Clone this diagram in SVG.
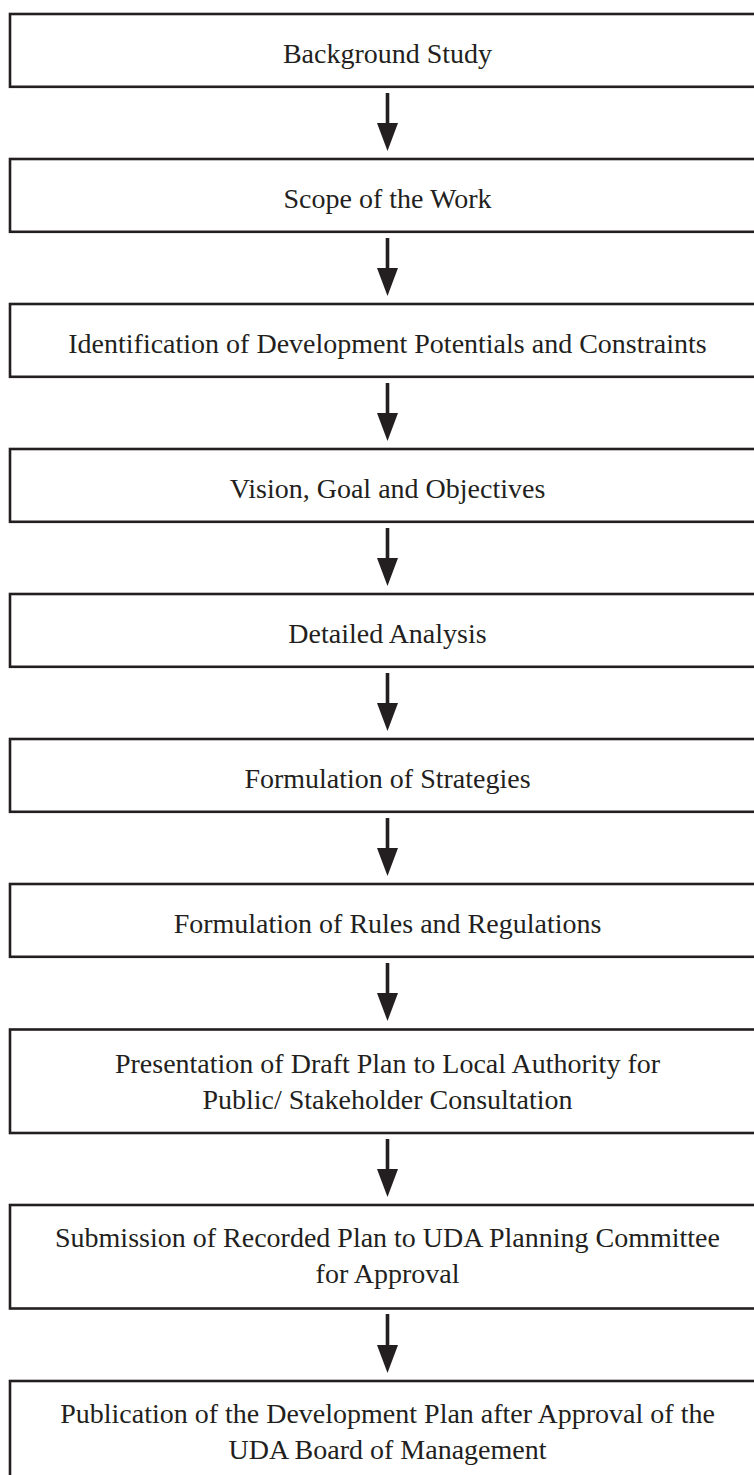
<svg xmlns="http://www.w3.org/2000/svg" width="754" height="1475" viewBox="0 0 754 1475">
<style>
.box{fill:#fff;stroke:#231f20;stroke-width:2.6}
.lbl{font-family:"Liberation Serif","DejaVu Serif",serif;font-size:28px;fill:#231f20;text-anchor:middle}
.shaft{stroke:#231f20;stroke-width:3.6;fill:none}
.head{fill:#231f20}
</style>
<rect width="754" height="1475" fill="#fff"/>
<g id="connectors">
<g id="a1"><line class="shaft" x1="387.5" y1="93" x2="387.5" y2="125"/><polygon class="head" points="377,123 398,123 387.5,151"/></g>
<g id="a2"><line class="shaft" x1="387.5" y1="238" x2="387.5" y2="270"/><polygon class="head" points="377,268 398,268 387.5,296"/></g>
<g id="a3"><line class="shaft" x1="387.5" y1="383" x2="387.5" y2="415"/><polygon class="head" points="377,413 398,413 387.5,441"/></g>
<g id="a4"><line class="shaft" x1="387.5" y1="528" x2="387.5" y2="560"/><polygon class="head" points="377,558 398,558 387.5,586"/></g>
<g id="a5"><line class="shaft" x1="387.5" y1="673" x2="387.5" y2="705"/><polygon class="head" points="377,703 398,703 387.5,731"/></g>
<g id="a6"><line class="shaft" x1="387.5" y1="818" x2="387.5" y2="850"/><polygon class="head" points="377,848 398,848 387.5,876"/></g>
<g id="a7"><line class="shaft" x1="387.5" y1="963" x2="387.5" y2="995"/><polygon class="head" points="377,993 398,993 387.5,1021"/></g>
<g id="a8"><line class="shaft" x1="387.5" y1="1139" x2="387.5" y2="1171"/><polygon class="head" points="377,1169 398,1169 387.5,1197"/></g>
<g id="a9"><line class="shaft" x1="387.5" y1="1314" x2="387.5" y2="1347"/><polygon class="head" points="377,1345 398,1345 387.5,1373"/></g>
</g>
<g id="n1"><rect class="box" x="10" y="14" width="760" height="72.8"/><text class="lbl" x="387.5" y="63">Background Study</text></g>
<g id="n2"><rect class="box" x="10" y="159" width="760" height="72.8"/><text class="lbl" x="387.5" y="208">Scope of the Work</text></g>
<g id="n3"><rect class="box" x="10" y="304" width="760" height="72.8"/><text class="lbl" x="387.5" y="353">Identification of Development Potentials and Constraints</text></g>
<g id="n4"><rect class="box" x="10" y="449" width="760" height="72.8"/><text class="lbl" x="387.5" y="498">Vision, Goal and Objectives</text></g>
<g id="n5"><rect class="box" x="10" y="594" width="760" height="72.8"/><text class="lbl" x="387.5" y="643">Detailed Analysis</text></g>
<g id="n6"><rect class="box" x="10" y="739" width="760" height="72.8"/><text class="lbl" x="387.5" y="788">Formulation of Strategies</text></g>
<g id="n7"><rect class="box" x="10" y="884" width="760" height="72.8"/><text class="lbl" x="387.5" y="933">Formulation of Rules and Regulations</text></g>
<g id="n8"><rect class="box" x="10" y="1029.5" width="760" height="103.5"/><text class="lbl" x="387.5" y="1073">Presentation of Draft Plan to Local Authority for</text><text class="lbl" x="387.5" y="1109">Public/ Stakeholder Consultation</text></g>
<g id="n9"><rect class="box" x="10" y="1205" width="760" height="103.5"/><text class="lbl" x="387.5" y="1247">Submission of Recorded Plan to UDA Planning Committee</text><text class="lbl" x="387.5" y="1283">for Approval</text></g>
<g id="n10"><rect class="box" x="10" y="1381" width="760" height="103.5"/><text class="lbl" x="387.5" y="1423">Publication of the Development Plan after Approval of the</text><text class="lbl" x="387.5" y="1459">UDA Board of Management</text></g>
</svg>
